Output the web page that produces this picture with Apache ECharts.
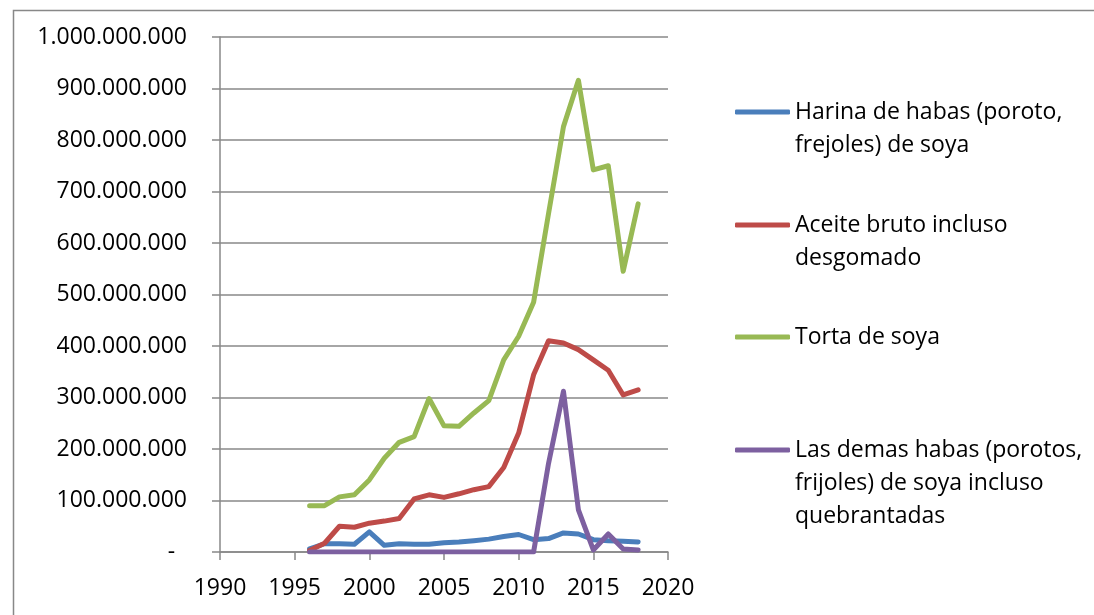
<!DOCTYPE html>
<html>
<head>
<meta charset="utf-8">
<script src="https://cdn.jsdelivr.net/npm/echarts@6/dist/echarts.min.js"></script>
<style>
    html, body {margin: 0; padding: 0; background: #fff;}
    #echartdiv {width: 1094px; height: 615px;}
</style>
</head>
<body>
<div id="echartdiv"></div>
<script>
var pYears = [1996, 1997, 1998, 1999, 2000, 2001, 2002, 2003, 2004, 2005, 2006, 2007,
    2008, 2009, 2010, 2011, 2012, 2013, 2014, 2015, 2016, 2017, 2018];

// Harina de habas
var pHarina = [6000000, 16000000, 16000000, 15000000, 39000000, 13000000, 16000000, 15000000,
    15000000, 18000000, 19500000, 22000000, 25000000, 30000000, 34000000, 24000000,
    26000000, 37000000, 35000000, 24000000, 22000000, 21000000, 19500000];
// Aceite bruto
var pAceite = [3000000, 17000000, 50000000, 48000000, 56000000, 60000000, 65000000, 103000000,
    111000000, 106000000, 113000000, 121000000, 127000000, 164000000, 231000000, 344000000,
    410000000, 406000000, 393000000, 373000000, 353000000, 305000000, 315000000];
// Torta de soya
var pTorta = [90000000, 90000000, 107000000, 111000000, 140000000, 182000000, 213000000, 224000000,
    298000000, 245000000, 244000000, 270000000, 294000000, 373000000, 419000000, 485000000,
    657000000, 826000000, 916000000, 742000000, 750000000, 545000000, 676000000];
// Las demas habas
var pDemas = [0, 0, 0, 0, 0, 0, 0, 0, 0, 0, 0, 0, 0, 0, 0, 0,
    172000000, 312000000, 82000000, 4000000, 35000000, 6000000, 4000000];

var pNames = ["Harina de habas (poroto,\nfrejoles) de soya",
    "Aceite bruto incluso\ndesgomado",
    "Torta de soya",
    "Las demas habas (porotos,\nfrijoles) de soya incluso\nquebrantadas"];
var pColors = ["#4a7ebb", "#be4b48", "#98b954", "#7d60a0"];
var pLegendY = [112, 225, 337, 450];   //图例线的中心位置

var FONT = "'Open Sans', sans-serif";

function toPairs(vals) {
    var out = [];
    for (var i = 0; i < pYears.length; i++) {
        out.push([pYears[i], vals[i]]);
    }
    return out;
}

function fmtNum(v) {
    if (v == 0) {
        return '-  ';
    }
    return String(v).replace(/\B(?=(\d{3})+(?!\d))/g, '.');
}

var dom = document.getElementById("echartdiv");
var myChart = echarts.init(dom);

var allData = [pHarina, pAceite, pTorta, pDemas];
var series = [];
var legends = [];
for (var k = 0; k < pNames.length; k++) {
    series.push({
        name: pNames[k],
        type: 'line',
        data: toPairs(allData[k]),
        symbol: 'none',
        lineStyle: {width: 5, color: pColors[k], join: 'round', cap: 'round'},
        itemStyle: {color: pColors[k]}
    });
    // 多行文字时图例线对齐第一行: 前面补空行
    var nLines = pNames[k].split('\n').length;
    var pad = '';
    for (var j = 1; j < nLines; j++) pad += '\n';
    var lh = 33;
    legends.push({
        data: [pNames[k]],
        orient: 'vertical',
        left: 735,
        top: pLegendY[k] - (2 * nLines - 1) * lh / 2,
        padding: 0,
        itemWidth: 55,
        itemHeight: 5,
        icon: 'roundRect',
        selectedMode: false,
        formatter: (function (p) {
            return function (name) { return p + name; };
        })(pad),
        textStyle: {fontFamily: FONT, fontSize: 23, color: '#000', lineHeight: lh}
    });
}

var option = {
    animation: false,
    backgroundColor: '#fff',
    graphic: [{
        type: 'rect',
        left: 11,
        top: 8,
        shape: {width: 1200, height: 700},
        style: {fill: 'none', stroke: '#888', lineWidth: 1.5},
        silent: true
    }],
    legend: legends,
    grid: {
        left: 220,
        right: 426,
        top: 37,
        bottom: 63,
        containLabel: false
    },
    xAxis: {
        type: 'value',
        min: 1990,
        max: 2020,
        interval: 5,
        axisLine: {lineStyle: {color: '#888', width: 1.5}},
        axisTick: {show: true, length: 8, lineStyle: {color: '#888', width: 1.5}},
        axisLabel: {
            fontFamily: FONT, fontSize: 23, color: '#000', margin: 25,
            formatter: function (v) { return String(v); }
        },
        splitLine: {show: false}
    },
    yAxis: {
        type: 'value',
        min: 0,
        max: 1000000000,
        interval: 100000000,
        axisLine: {show: true, lineStyle: {color: '#888', width: 1.5}},
        axisTick: {show: true, length: 8, lineStyle: {color: '#888', width: 1.5}},
        axisLabel: {fontFamily: FONT, fontSize: 23, color: '#000', margin: 33, formatter: fmtNum},
        splitLine: {lineStyle: {color: '#888', width: 1.5}}
    },
    series: series
};

myChart.setOption(option);
</script>
</body>
</html>
